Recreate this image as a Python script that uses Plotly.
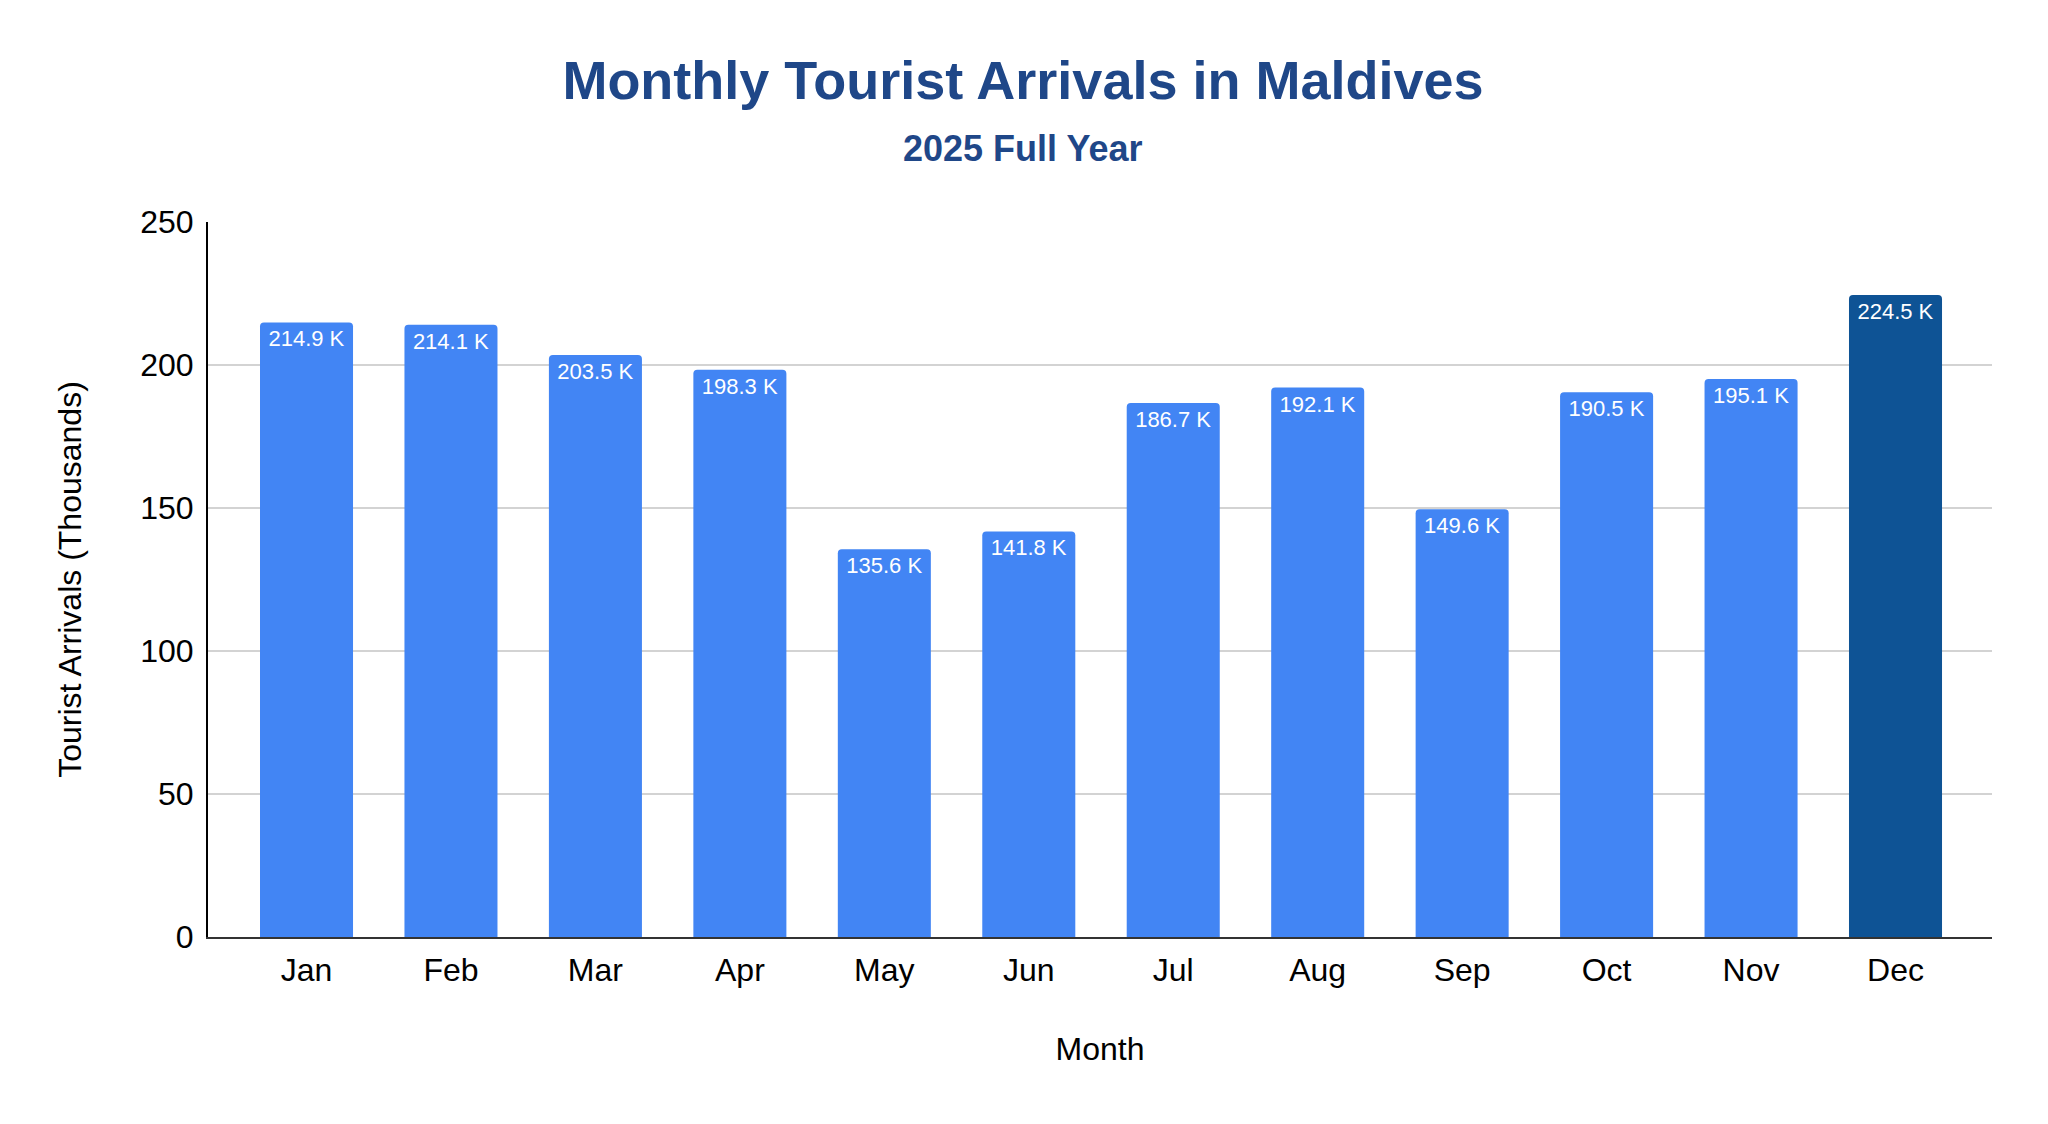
import plotly.graph_objects as go

months = ["Jan", "Feb", "Mar", "Apr", "May", "Jun", "Jul", "Aug", "Sep", "Oct", "Nov", "Dec"]
arrivals = [214.9, 214.1, 203.5, 198.3, 135.6, 141.8, 186.7, 192.1, 149.6, 190.5, 195.1, 224.5]
y_ticks = [0, 50, 100, 150, 200, 250]

# December highlighted in dark blue
bar_colors = ["#4285F4"] * 11 + ["#0E5395"]
labels = [f"{v:.1f} K" for v in arrivals]

FONT = "Liberation Sans, Arial, sans-serif"
W, H = 2048, 1124
PAD = 8  # page body margin shifts the figure by this much
TOP, BOTTOM, LEFT, RIGHT = 222 - PAD, 187 + PAD, 208 - PAD, 56 + PAD
plot_h = H - TOP - BOTTOM

fig = go.Figure(go.Bar(
    x=months,
    y=arrivals,
    marker=dict(color=bar_colors, cornerradius=4, line=dict(width=0)),
    text=labels,
    textposition="inside",
    insidetextanchor="end",
    textangle=0,
    textfont=dict(color="white", size=22, family=FONT),
))

fig.update_layout(
    width=W,
    height=H,
    paper_bgcolor="white",
    plot_bgcolor="white",
    font=dict(family=FONT, color="black", size=32),
    title=dict(
        text="<b>Monthly Tourist Arrivals in Maldives</b>",
        x=(1023 - PAD) / W,
        xanchor="center",
        xref="container",
        yref="container",
        y=1 - (80 - PAD) / H,
        yanchor="middle",
        font=dict(size=54, color="#1F4788"),
    ),
    annotations=[dict(
        text="<b>2025 Full Year</b>",
        x=(1023 - PAD - LEFT) / (W - LEFT - RIGHT), xref="paper",
        y=1 + (TOP - (148 - PAD)) / plot_h, yref="paper",
        xanchor="center",
        yanchor="middle",
        showarrow=False,
        font=dict(size=36, color="#1F4788", family=FONT),
    )],
    margin=dict(l=LEFT, r=RIGHT, t=TOP, b=BOTTOM),
    bargap=0.356,
    showlegend=False,
    xaxis=dict(
        title=dict(text="Month", font=dict(size=32), standoff=50),
        automargin=False,
        range=[-0.682, 11.668],
        showline=True,
        linecolor="#333333",
        linewidth=2,
        ticks="",
        ticklabelstandoff=4,
        tickfont=dict(size=32),
        showgrid=False,
    ),
    yaxis=dict(
        title=dict(text="Tourist Arrivals (Thousands)", font=dict(size=32), standoff=49),
        automargin=False,
        range=[0, 250],
        tickvals=y_ticks,
        showline=True,
        linecolor="black",
        linewidth=2,
        gridcolor="#D3D3D3",
        gridwidth=2,
        zeroline=False,
        ticks="",
        ticklabelstandoff=6,
        tickfont=dict(size=32),
    ),
)

fig.write_html("out.html")
